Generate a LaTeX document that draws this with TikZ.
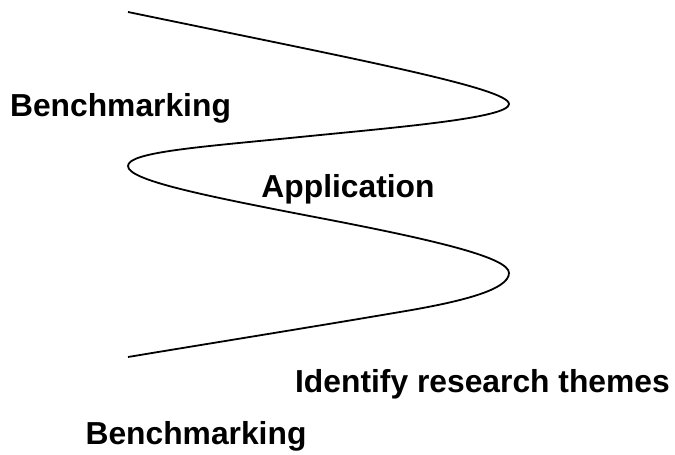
\documentclass[tikz,border=0pt]{standalone}
\usepackage{fontspec}
\setmainfont{Liberation Sans}
\begin{document}
\begin{tikzpicture}[x=1pt,y=-1pt,
  lbl/.style={font=\fontsize{31.8}{36}\selectfont\bfseries, anchor=base, inner sep=0pt},
  wave/.style={line width=1.8pt, black}]
\useasboundingbox (0,0) rectangle (675,455);
\coordinate (p0) at (128,12);
\coordinate (t1) at (509,104);
\coordinate (m1) at (300,137);
\coordinate (t2) at (128,166);
\coordinate (m2) at (320,218);
\coordinate (t3) at (509,273);
\coordinate (m3) at (400,312);
\coordinate (p1) at (128,357);
\draw[wave] (p0) .. controls (350,58) and (509,88) .. (t1)
  .. controls (509,118) and (400,127) .. (m1)
  .. controls (200,147) and (128,152) .. (t2)
  .. controls (128,180) and (200,195) .. (m2)
  .. controls (440,241) and (509,258) .. (t3)
  .. controls (509,290) and (460,302) .. (m3)
  .. controls (300,329) and (200,345) .. (p1);
\node[lbl] (bench1) at (120.5,116) {Benchmarking};
\node[lbl] (app) at (348,197) {Application};
\node[lbl] (ident) at (482.5,392) {Identify research themes};
\node[lbl] (bench2) at (196,444) {Benchmarking};
\end{tikzpicture}
\end{document}
